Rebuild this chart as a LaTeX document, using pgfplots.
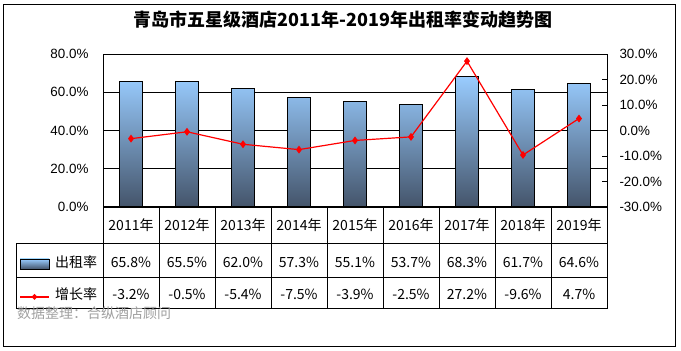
\documentclass[border=0pt]{standalone}
\usepackage{pgfplots}
\pgfplotsset{compat=1.18}
\usepackage{fontspec}
\setmainfont{Liberation Sans}
\newfontfamily\cjk{Noto Sans CJK SC}
\definecolor{bartop}{RGB}{153,204,255}
\definecolor{barbot}{RGB}{68,84,106}
\definecolor{wm}{RGB}{160,160,160}
\begin{document}
\begin{tikzpicture}
\path (0,0) rectangle (681pt,351pt);
\draw[line width=1pt] (3.5pt,4.5pt) rectangle (675.5pt,346.5pt);
\node[font=\cjk\bfseries\fontsize{18}{21}\selectfont] at (343pt,331pt) {青岛市五星级酒店2011年-2019年出租率变动趋势图};

\begin{axis}[at={(103pt,144pt)}, anchor=south west, scale only axis,
  width=504pt, height=153pt,
  xmin=-0.5, xmax=8.5, ymin=0, ymax=80,
  ytick={0,20,...,80},
  xtick={0,...,8},
  xticklabels={2011年,2012年,2013年,2014年,2015年,2016年,2017年,2018年,2019年},
  xticklabel style={font=\cjk\fontsize{14}{16}\selectfont, anchor=center, yshift=-18pt},
  major tick length=0pt,
  ymajorgrids, grid style={black, line width=0.8pt},
  axis line style={line width=1pt},
  yticklabel style={font=\fontsize{13.4}{15}\selectfont, xshift=-11pt},
  /pgf/number format/assume math mode=true,
  yticklabel={\pgfmathprintnumber[fixed,fixed zerofill,precision=1]{\tick}\%},
]
\addplot[ybar, bar width=23pt, draw=black, line width=1pt, top color=bartop, bottom color=barbot]
  coordinates {(0,65.8) (1,65.5) (2,62.0) (3,57.3) (4,55.1) (5,53.7) (6,68.3) (7,61.7) (8,64.6)};
\end{axis}

\begin{axis}[at={(103pt,144pt)}, anchor=south west, scale only axis,
  width=504pt, height=153pt,
  xmin=-0.5, xmax=8.5, ymin=-30, ymax=30,
  axis y line*=right, axis x line=none,
  ytick={-30,-20,...,30},
  tick align=inside, major tick length=5pt,
  tick style={black, line width=0.8pt},
  axis line style={line width=1pt},
  yticklabel style={font=\fontsize{13.4}{15}\selectfont, xshift=9pt},
  /pgf/number format/assume math mode=true,
  yticklabel={\pgfmathprintnumber[fixed,fixed zerofill,precision=1]{\tick}\%},
]
\addplot[red, line width=1.2pt, mark=diamond*, mark size=3pt, mark options={fill=red, draw=red}]
  coordinates {(0,-3.2) (1,-0.5) (2,-5.4) (3,-7.5) (4,-3.9) (5,-2.5) (6,27.2) (7,-9.6) (8,4.7)};
\end{axis}

% data table grid
\begin{scope}[line width=1pt]
\draw (16pt,107pt) -- (607pt,107pt);
\draw (16pt,73pt) -- (607pt,73pt);
\draw (16pt,42pt) -- (607pt,42pt);
\draw (16pt,107pt) -- (16pt,42pt);
\foreach \k in {0,...,9} \draw ({(103+56*\k)*1pt},144pt) -- ({(103+56*\k)*1pt},42pt);
\end{scope}

\begin{scope}[font=\cjk\fontsize{14}{16}\selectfont]
\foreach \v [count=\i from 0] in {65.8\%,65.5\%,62.0\%,57.3\%,55.1\%,53.7\%,68.3\%,61.7\%,64.6\%}
  \node at ({(131+56*\i)*1pt},89pt) {\v};
\foreach \v [count=\i from 0] in {-3.2\%,-0.5\%,-5.4\%,-7.5\%,-3.9\%,-2.5\%,27.2\%,-9.6\%,4.7\%}
  \node at ({(131+56*\i)*1pt},57pt) {\v};
\node[anchor=west, inner sep=0pt] at (55pt,89pt) {出租率};
\node[anchor=west, inner sep=0pt] at (55pt,57pt) {增长率};
\node[anchor=west, inner sep=0pt, text=wm] at (17pt,38pt) {数据整理：合纵酒店顾问};
\end{scope}
\draw[line width=0.8pt, top color=bartop, bottom color=barbot] (20pt,82pt) rectangle (49pt,92pt);
\draw[red, line width=1.2pt] (20pt,54pt) -- (49pt,54pt);
\fill[red] (34.5pt,54pt) ++(-3pt,0) -- ++(3pt,3pt) -- ++(3pt,-3pt) -- ++(-3pt,-3pt) -- cycle;
\end{tikzpicture}
\end{document}
